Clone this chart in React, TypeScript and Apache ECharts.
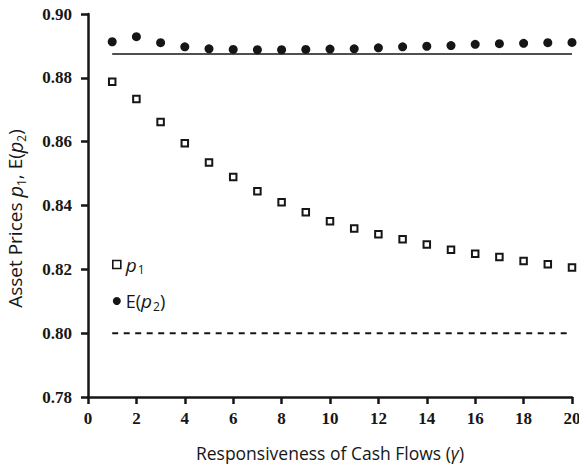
import React, { useEffect, useRef } from "react";
import * as echarts from "echarts";

const gammaValues = [1, 2, 3, 4, 5, 6, 7, 8, 9, 10, 11, 12, 13, 14, 15, 16, 17, 18, 19, 20];
const p1Values = [
  0.8788, 0.8734, 0.8662, 0.8595, 0.8535, 0.8489, 0.8445, 0.8410, 0.8379, 0.8351,
  0.8328, 0.8310, 0.8294, 0.8278, 0.8261, 0.8249, 0.8239, 0.8226, 0.8216, 0.8206,
];
const ep2Values = [
  0.8913, 0.8929, 0.8910, 0.8897, 0.8891, 0.8889, 0.8888, 0.8888, 0.8889, 0.8890,
  0.8891, 0.8894, 0.8897, 0.8899, 0.8901, 0.8905, 0.8907, 0.8908, 0.8910, 0.8911,
];
const upperRefLevel = 0.8875;
const lowerRefLevel = 0.8;
const refLineSpan = [1, 20];

const INK = "#161616";

export default function App() {
  const ref = useRef<HTMLDivElement>(null);
  useEffect(() => {
    if (!ref.current) return;
    const chart = echarts.init(ref.current, null, { renderer: "svg" });
    const sansFont = "Open Sans";
    chart.setOption({
      animation: false,
      backgroundColor: "#fff",
      grid: { left: 88, right: 7, top: 14, bottom: 67, containLabel: false, outerBoundsMode: "none" },
      legend: {
        orient: "vertical",
        left: 112,
        top: 255,
        padding: 0,
        itemWidth: 8,
        itemHeight: 8,
        itemGap: 16,
        data: [
          { name: "p1", itemStyle: { borderWidth: 1.6 } },
          { name: "Ep2" },
        ],
        formatter: (name: string) =>
          name === "p1" ? "{i|p}{s|1}" : "{n|E(}{i|p}{s|2}{n|)}",
        textStyle: {
          color: INK,
          fontFamily: sansFont,
          fontSize: 18,
          rich: {
            i: { fontStyle: "italic", fontSize: 19, fontFamily: sansFont, color: INK, lineHeight: 22 },
            n: { fontSize: 18, fontFamily: sansFont, color: INK, lineHeight: 22 },
            s: { fontSize: 12, fontFamily: sansFont, color: INK, verticalAlign: "bottom", lineHeight: 12, padding: [0, 0, 0, 1] },
          },
        },
      },
      xAxis: {
        type: "value",
        min: 0,
        max: 20,
        interval: 2,
        name: "Responsiveness of Cash Flows ({i|γ})",
        nameLocation: "middle",
        nameGap: 47,
        nameTextStyle: {
          color: INK,
          fontFamily: sansFont,
          fontSize: 17.5,
          rich: { i: { fontStyle: "italic", fontFamily: sansFont, fontSize: 17.5, color: INK } },
        },
        axisLine: { show: true, lineStyle: { color: INK, width: 2.5 } },
        axisTick: { show: true, inside: false, length: 7, lineStyle: { color: INK, width: 2.5 } },
        axisLabel: {
          color: INK,
          fontFamily: "Liberation Serif",
          fontWeight: "bold",
          fontSize: 17,
          margin: 13,
        },
        splitLine: { show: false },
      },
      yAxis: {
        type: "value",
        min: 0.78,
        max: 0.9,
        interval: 0.02,
        name: "Asset Prices {i|p}{s|1}, E({i|p}{s|2})",
        nameLocation: "middle",
        nameRotate: 90,
        nameGap: 61,
        nameTextStyle: {
          color: INK,
          fontFamily: sansFont,
          fontSize: 19,
          padding: [0, 26, 0, 0],
          rich: {
            i: { fontStyle: "italic", fontFamily: sansFont, fontSize: 20, color: INK, lineHeight: 24 },
            s: { fontFamily: sansFont, fontSize: 12, color: INK, verticalAlign: "bottom", lineHeight: 13 },
          },
        },
        axisLine: { show: true, lineStyle: { color: INK, width: 2.5 } },
        axisTick: { show: true, inside: false, length: 7, lineStyle: { color: INK, width: 2.5 } },
        axisLabel: {
          color: INK,
          fontFamily: "Liberation Serif",
          fontWeight: "bold",
          fontSize: 17,
          margin: 16,
          formatter: (v: number) => v.toFixed(2),
        },
        splitLine: { show: false },
      },
      series: [
        {
          name: "p1",
          type: "scatter",
          symbol: "rect",
          symbolSize: 6.5,
          itemStyle: { color: "#fff", borderColor: INK, borderWidth: 2, opacity: 1 },
          data: gammaValues.map((g, i) => [g, p1Values[i]]),
          z: 3,
        },
        {
          name: "Ep2",
          type: "scatter",
          symbol: "circle",
          symbolSize: 9,
          itemStyle: { color: INK, opacity: 1 },
          data: gammaValues.map((g, i) => [g, ep2Values[i]]),
          z: 3,
        },
        {
          name: "upper",
          type: "line",
          showSymbol: false,
          symbol: "none",
          silent: true,
          lineStyle: { color: INK, width: 1.5 },
          data: refLineSpan.map((x) => [x, upperRefLevel]),
        },
        {
          name: "lower",
          type: "line",
          showSymbol: false,
          symbol: "none",
          silent: true,
          lineStyle: { color: INK, width: 2, type: [6, 5.5] },
          data: refLineSpan.map((x) => [x, lowerRefLevel]),
        },
      ],
    });
    return () => chart.dispose();
  }, []);
  return (
    <div
      ref={ref}
      style={{ position: "fixed", left: 0, top: 0, width: 579, height: 464, background: "#fff" }}
    />
  );
}
